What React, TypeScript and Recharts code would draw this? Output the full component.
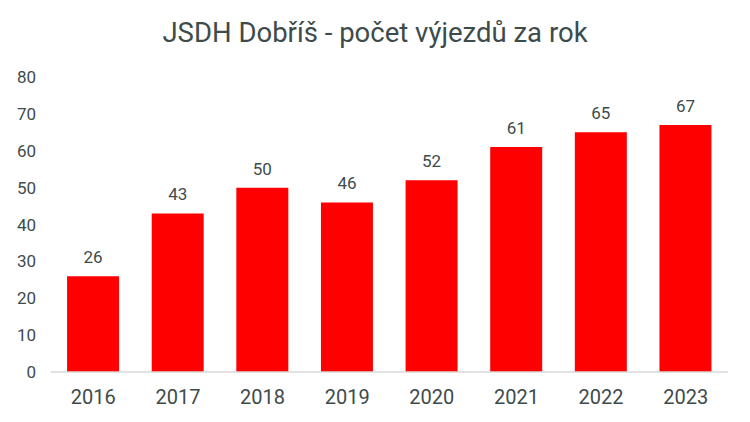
import { BarChart, Bar, XAxis, YAxis, LabelList } from 'recharts';

const years = ['2016', '2017', '2018', '2019', '2020', '2021', '2022', '2023'];
const callouts = [26, 43, 50, 46, 52, 61, 65, 67];
const yTicks = [0, 10, 20, 30, 40, 50, 60, 70, 80];

const data = years.map((year, i) => ({ year, value: callouts[i] }));

const textColor = '#3e4b4b';
const font = 'Roboto, "Noto Sans", sans-serif';

export default function App() {
  return (
    <div style={{ position: 'absolute', left: 0, top: 0, width: 750, height: 422, background: '#fff', fontFamily: font }}>
      <div
        style={{
          position: 'absolute',
          top: 16,
          left: 0,
          width: 750,
          textAlign: 'center',
          fontSize: 27.5,
          color: textColor,
        }}
      >
        JSDH Dobříš - počet výjezdů za rok
      </div>
      <BarChart
        width={750}
        height={422}
        data={data}
        margin={{ top: 77, right: 22, left: 11, bottom: 0 }}
        barCategoryGap="19%"
      >
        <XAxis
          dataKey="year"
          height={50}
          tickLine={false}
          tickSize={0}
          tickMargin={18}
          axisLine={{ stroke: '#d9d9d9', strokeWidth: 1.5 }}
          tick={{ fill: textColor, fontSize: 20, fontFamily: font }}
        />
        <YAxis
          width={40}
          domain={[0, 80]}
          ticks={yTicks}
          interval={0}
          axisLine={false}
          tickLine={false}
          tickSize={0}
          tickMargin={15}
          tick={{ fill: textColor, fontSize: 17, fontFamily: font }}
        />
        <Bar dataKey="value" fill="#ff0000" isAnimationActive={false}>
          <LabelList
            dataKey="value"
            position="top"
            offset={13}
            style={{ fill: textColor, fontSize: 17, fontFamily: font }}
          />
        </Bar>
      </BarChart>
    </div>
  );
}
